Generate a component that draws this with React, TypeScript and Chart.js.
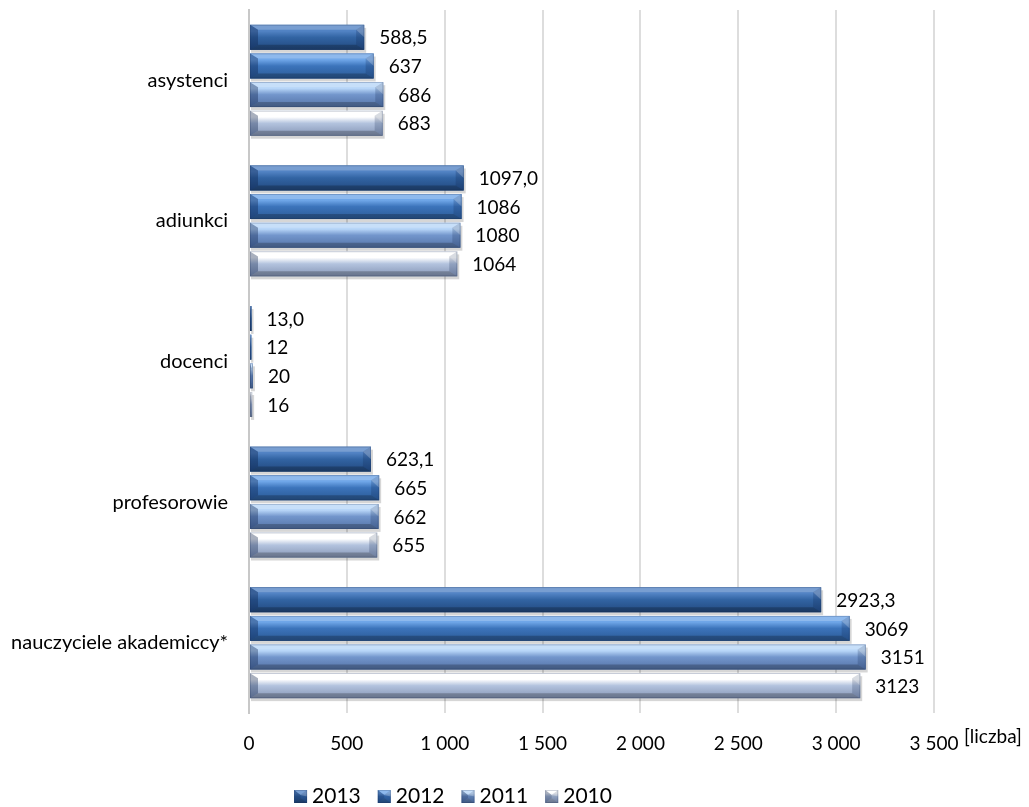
import React, { useEffect, useRef } from "react";
import { Chart, registerables } from "chart.js";

Chart.register(...registerables);

const categories = ["asystenci", "adiunkci", "docenci", "profesorowie", "nauczyciele akademiccy*"];
const seriesNames = ["2013", "2012", "2011", "2010"];
const values2013 = [588.5, 1097.0, 13.0, 623.1, 2923.3];
const values2012 = [637, 1086, 12, 665, 3069];
const values2011 = [686, 1080, 20, 662, 3151];
const values2010 = [683, 1064, 16, 655, 3123];
const labels2013 = ["588,5", "1097,0", "13,0", "623,1", "2923,3"];
const labels2012 = ["637", "1086", "12", "665", "3069"];
const labels2011 = ["686", "1080", "20", "662", "3151"];
const labels2010 = ["683", "1064", "16", "655", "3123"];
const xTickValues = [0, 500, 1000, 1500, 2000, 2500, 3000, 3500];
const axisUnit = "[liczba]";

const FONT = "Lato, 'Open Sans', sans-serif";

// highlight, mid, dark
const palettes = [
  ["#5283C4", "#3264A3", "#22497F"],
  ["#6FA6E8", "#3C74BB", "#2B5A96"],
  ["#B8D6F8", "#7396CC", "#5473A6"],
  ["#FFFFFF", "#B3C3DE", "#8595B5"],
];

function drawBevelBar(ctx: CanvasRenderingContext2D, x0: number, x1: number, y0: number, y1: number, pal: string[], shadow = true) {
  const w = x1 - x0;
  const h = y1 - y0;
  if (w <= 0) return;
  if (shadow) {
    ctx.fillStyle = "rgba(0,0,0,0.16)";
    ctx.fillRect(x0 + 1, y0 + 3, w + 1, h);
  }
  const g = ctx.createLinearGradient(0, y0, 0, y1);
  g.addColorStop(0, pal[0]);
  g.addColorStop(0.25, pal[0]);
  g.addColorStop(0.5, pal[1]);
  g.addColorStop(1, pal[2]);
  ctx.fillStyle = g;
  ctx.fillRect(x0, y0, w, h);
  const bx = Math.min(8, w / 2);
  const by = Math.min(5, h / 2);
  ctx.fillStyle = "rgba(255,255,255,0.22)";
  ctx.beginPath();
  ctx.moveTo(x0, y0); ctx.lineTo(x1, y0); ctx.lineTo(x1 - bx, y0 + by); ctx.lineTo(x0 + bx, y0 + by); ctx.closePath();
  ctx.fill();
  ctx.fillStyle = "rgba(0,0,0,0.22)";
  ctx.beginPath();
  ctx.moveTo(x0, y1); ctx.lineTo(x1, y1); ctx.lineTo(x1 - bx, y1 - by); ctx.lineTo(x0 + bx, y1 - by); ctx.closePath();
  ctx.fill();
  ctx.fillStyle = "rgba(10,30,70,0.35)";
  ctx.beginPath();
  ctx.moveTo(x0, y0); ctx.lineTo(x0 + bx, y0 + by); ctx.lineTo(x0 + bx, y1 - by); ctx.lineTo(x0, y1); ctx.closePath();
  ctx.fill();
  ctx.fillStyle = "rgba(10,30,70,0.2)";
  ctx.beginPath();
  ctx.moveTo(x1, y0); ctx.lineTo(x1 - bx, y0 + by); ctx.lineTo(x1 - bx, y1 - by); ctx.lineTo(x1, y1); ctx.closePath();
  ctx.fill();
  ctx.fillStyle = "rgba(255,255,255,0.22)";
  ctx.beginPath();
  ctx.moveTo(x1, y0); ctx.lineTo(x1 - bx, y0 + by); ctx.lineTo(x1, y0 + h * 0.5); ctx.closePath();
  ctx.fill();
  ctx.strokeStyle = "rgba(20,40,80,0.25)";
  ctx.lineWidth = 0.8;
  ctx.strokeRect(x0 + 0.4, y0 + 0.4, w - 0.8, h - 0.8);
}

const fmt = (v: number) => String(v).replace(/\B(?=(\d{3})+(?!\d))/g, " ");

export default function App() {
  const ref = useRef<HTMLCanvasElement | null>(null);
  useEffect(() => {
    if (!ref.current) return;
    const allLabels = [labels2013, labels2012, labels2011, labels2010];
    const bevelPlugin = {
      id: "bevel",
      afterDatasetsDraw(chart: any) {
        const ctx = chart.ctx as CanvasRenderingContext2D;
        ctx.save();
        chart.data.datasets.forEach((ds: any, di: number) => {
          const meta = chart.getDatasetMeta(di);
          meta.data.forEach((el: any, i: number) => {
            const { x, y, base, height } = el.getProps(["x", "y", "base", "height"], true);
            const y0 = y - height / 2;
            const y1 = y + height / 2;
            drawBevelBar(ctx, Math.min(base, x), Math.max(base, x), y0, y1, palettes[di]);
            ctx.fillStyle = "#000";
            ctx.font = `19px ${FONT}`;
            ctx.textAlign = "left";
            ctx.textBaseline = "middle";
            ctx.fillText(allLabels[di][i], x + 15, y + 1);
          });
        });
        ctx.restore();
      },
      afterDraw(chart: any) {
        const ctx = chart.ctx as CanvasRenderingContext2D;
        ctx.save();
        ctx.fillStyle = "#000";
        ctx.font = `19px ${FONT}`;
        ctx.textAlign = "left";
        ctx.textBaseline = "middle";
        ctx.fillText(axisUnit, 964, 737);
        ctx.font = `21px ${FONT}`;
        const box = 13, gapBox = 5, gapItem = 17;
        const widths = seriesNames.map((s) => box + gapBox + ctx.measureText(s).width);
        const total = widths.reduce((a, b) => a + b, 0) + gapItem * (seriesNames.length - 1);
        let lx = 453 - total / 2;
        const ly = 796;
        seriesNames.forEach((s, i) => {
          drawBevelBar(ctx, lx, lx + box, ly - box / 2 + 0.5, ly + box / 2 + 0.5, palettes[i], false);
          ctx.fillStyle = "#000";
          ctx.fillText(s, lx + box + gapBox, ly);
          lx += widths[i] + gapItem;
        });
        ctx.restore();
      },
    };
    const seriesValues = [values2013, values2012, values2011, values2010];
    const chart = new Chart(ref.current, {
      type: "bar",
      data: {
        labels: categories,
        datasets: seriesNames.map((name, i) => ({
          label: name,
          data: seriesValues[i],
          backgroundColor: palettes[i][1],
          borderWidth: 0,
          categoryPercentage: 0.815,
          barPercentage: 0.87,
        })),
      },
      options: {
        indexAxis: "y",
        animation: false,
        responsive: true,
        maintainAspectRatio: false,
        layout: { padding: { top: 10, right: 95, left: 0, bottom: 0 } },
        plugins: { legend: { display: false }, tooltip: { enabled: false } },
        scales: {
          x: {
            min: 0,
            max: 3500,
            afterBuildTicks(scale: any) {
              scale.ticks = xTickValues.map((v) => ({ value: v }));
            },
            afterFit(scale: any) {
              scale.height = 94;
            },
            grid: { color: "#DDDDDD", lineWidth: 2, drawTicks: false, tickLength: 0 },
            border: { display: false },
            ticks: {
              padding: 19,
              color: "#000",
              font: { family: FONT, size: 19 },
              maxRotation: 0,
              autoSkip: false,
              callback: (v: any) => fmt(Number(v)),
            },
          },
          y: {
            afterFit(scale: any) {
              scale.width = 249;
              scale.paddingTop = 0;
              scale.paddingBottom = 0;
            },
            grid: { display: false, drawTicks: false },
            border: { display: true, color: "#C8C8C8", width: 2 },
            ticks: {
              padding: 21,
              color: "#000",
              font: { family: FONT, size: 20 },
            },
          },
        },
      },
      plugins: [bevelPlugin],
    });
    return () => chart.destroy();
  }, []);
  return (
    <div style={{ position: "absolute", left: 0, top: 0, width: 1029, height: 807, background: "#fff" }}>
      <canvas ref={ref} />
    </div>
  );
}
